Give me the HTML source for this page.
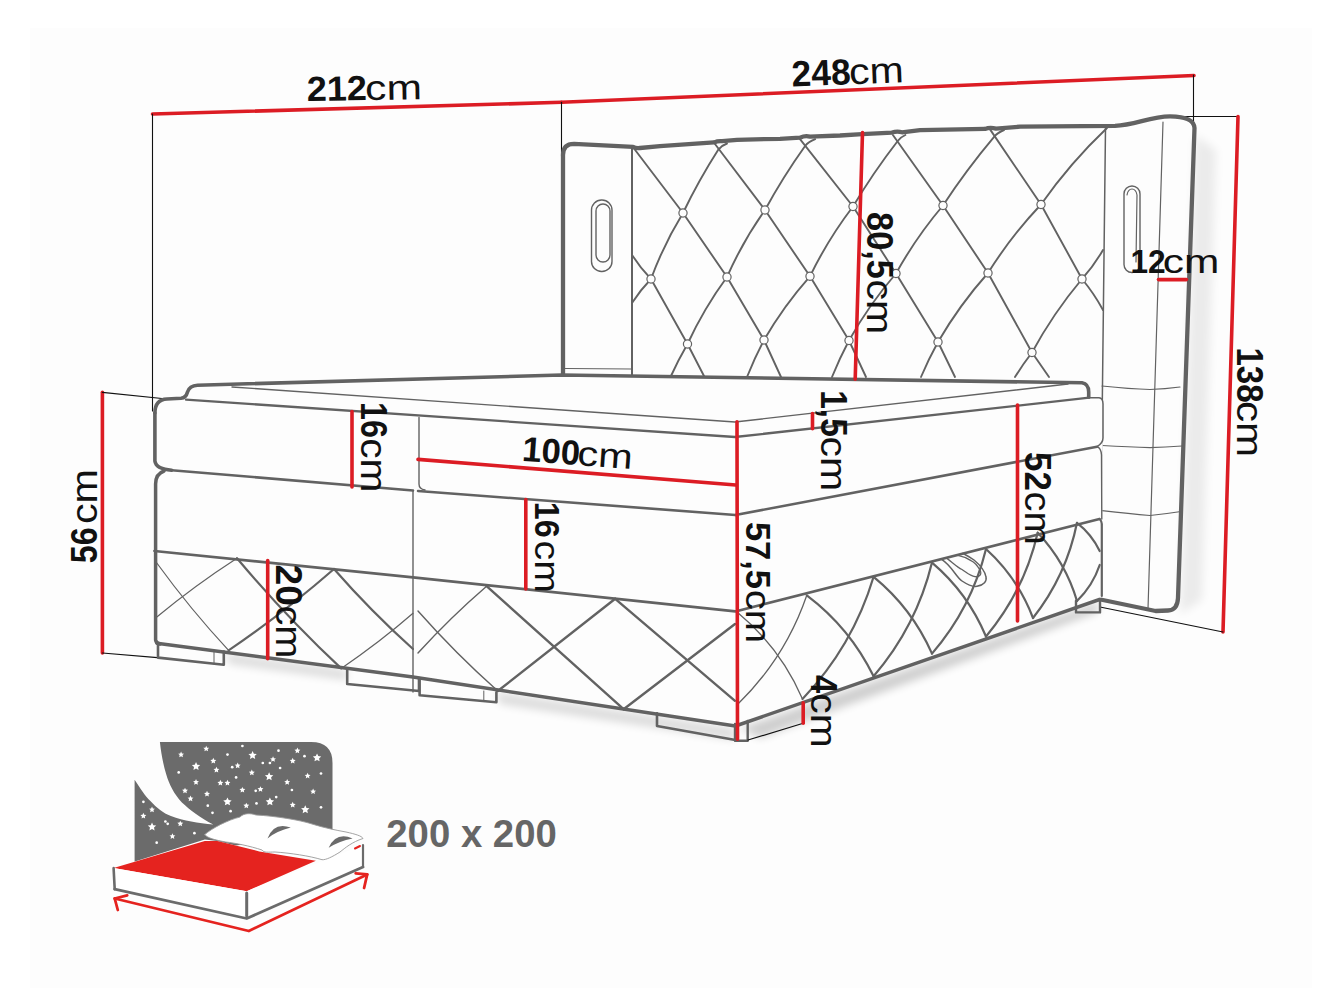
<!DOCTYPE html><html><head><meta charset="utf-8"><style>html,body{margin:0;padding:0;background:#fff;width:1336px;height:1002px;overflow:hidden}svg{display:block}</style></head><body><svg width="1336" height="1002" viewBox="0 0 1336 1002" stroke-linecap="round" stroke-linejoin="round"><rect x="30" y="28" width="1282" height="960" fill="#fdfdfd"/>
<line x1="152.5" y1="114" x2="561.5" y2="102.3" stroke="#dc1c24" stroke-width="3.6"/>
<line x1="561.5" y1="102.3" x2="1194" y2="75.5" stroke="#dc1c24" stroke-width="3.6"/>
<line x1="152.5" y1="114" x2="152.5" y2="411" stroke="#111" stroke-width="1.1"/>
<line x1="561.5" y1="102.3" x2="561.5" y2="156" stroke="#111" stroke-width="1.1"/>
<line x1="1193.5" y1="75" x2="1193.5" y2="123" stroke="#111" stroke-width="1.1"/>
<line x1="1170" y1="116.5" x2="1238.5" y2="116.5" stroke="#111" stroke-width="1.1"/>
<line x1="1238" y1="116.5" x2="1223" y2="632" stroke="#dc1c24" stroke-width="3.6"/>
<line x1="1100" y1="607" x2="1223" y2="632" stroke="#111" stroke-width="1.2"/>
<line x1="102.4" y1="392.3" x2="102.4" y2="653" stroke="#dc1c24" stroke-width="3.6"/>
<line x1="102.4" y1="392.3" x2="162" y2="398.5" stroke="#111" stroke-width="1.2"/>
<line x1="102.4" y1="653" x2="157.4" y2="657.7" stroke="#111" stroke-width="1.2"/>
<defs><filter id="bl" x="-20%" y="-20%" width="140%" height="140%"><feGaussianBlur stdDeviation="5"/></filter><filter id="bl2" x="-20%" y="-50%" width="140%" height="200%"><feGaussianBlur stdDeviation="4"/></filter></defs>
<path d="M1195,135 L1216,150 L1202,600 L1180,614 Z" fill="#000" opacity="0.07" filter="url(#bl)"/>
<path d="M740,728 L1098,602 L1098,612 L760,738 Z" fill="#000" opacity="0.18" filter="url(#bl2)"/>
<path d="M496,692 L735,728 L735,740 L500,704 Z" fill="#000" opacity="0.13" filter="url(#bl2)"/>
<path d="M224,653 L347,670 L347,680 L230,664 Z" fill="#000" opacity="0.13" filter="url(#bl2)"/>
<path d="M634,148.5 Q658.5,180.8 683,213" stroke="#626262" stroke-width="1.9" fill="none" />
<path d="M683,213 Q698.8,180.2 718.4,149.6 Q721.4,145.6 727,143.5" stroke="#626262" stroke-width="1.9" fill="none" />
<path d="M651,279 Q663.7,244.4 683,213" stroke="#626262" stroke-width="1.9" fill="none" />
<path d="M683,213 Q705.0,245.0 727,277" stroke="#626262" stroke-width="1.9" fill="none" />
<path d="M714.8,143.8 Q739.9,176.9 765,210" stroke="#626262" stroke-width="1.9" fill="none" />
<path d="M765,210 Q783.1,176.8 805.1,146 Q808.1,142 815.2,139.2" stroke="#626262" stroke-width="1.9" fill="none" />
<path d="M727,277 Q742.6,241.6 765,210" stroke="#626262" stroke-width="1.9" fill="none" />
<path d="M765,210 Q787.5,243.2 810,276.3" stroke="#626262" stroke-width="1.9" fill="none" />
<path d="M799.8,138.8 Q826.4,172.7 853,206.5" stroke="#626262" stroke-width="1.9" fill="none" />
<path d="M853,206.5 Q873.4,172.4 897.7,141 Q900.7,137 905.4,135" stroke="#626262" stroke-width="1.9" fill="none" />
<path d="M810,276.3 Q828.0,239.2 853,206.5" stroke="#626262" stroke-width="1.9" fill="none" />
<path d="M853,206.5 Q874.5,240.0 896,273.5" stroke="#626262" stroke-width="1.9" fill="none" />
<path d="M892.9,135 Q918.0,170.2 943,205.5" stroke="#626262" stroke-width="1.9" fill="none" />
<path d="M943,205.5 Q966.6,169.6 994.3,136.7 Q997.3,132.7 1004,130" stroke="#626262" stroke-width="1.9" fill="none" />
<path d="M896,273.5 Q916.1,237.2 943,205.5" stroke="#626262" stroke-width="1.9" fill="none" />
<path d="M943,205.5 Q965.5,239.2 988,273" stroke="#626262" stroke-width="1.9" fill="none" />
<path d="M990.2,129.6 Q1015.6,167.1 1041,204.5" stroke="#626262" stroke-width="1.9" fill="none" />
<path d="M1041,204.5 Q1070.2,162.9 1107,128" stroke="#626262" stroke-width="1.9" fill="none" />
<path d="M988,273 Q1011.1,236.1 1041,204.5" stroke="#626262" stroke-width="1.9" fill="none" />
<path d="M1041,204.5 Q1061.5,241.8 1082,279" stroke="#626262" stroke-width="1.9" fill="none" />
<path d="M651,279 Q669.2,311.5 687.5,344" stroke="#626262" stroke-width="1.9" fill="none" />
<path d="M687.5,344 Q703.9,308.5 727,277" stroke="#626262" stroke-width="1.9" fill="none" />
<path d="M670.5,377 Q678.2,360.1 687.5,344" stroke="#626262" stroke-width="1.9" fill="none" />
<path d="M687.5,344 Q696.0,360.5 704.5,377" stroke="#626262" stroke-width="1.9" fill="none" />
<path d="M727,277 Q745.5,308.5 764,340" stroke="#626262" stroke-width="1.9" fill="none" />
<path d="M764,340 Q783.8,305.8 810,276.3" stroke="#626262" stroke-width="1.9" fill="none" />
<path d="M747,377 Q754.6,358.1 764,340" stroke="#626262" stroke-width="1.9" fill="none" />
<path d="M764,340 Q772.5,358.5 781,377" stroke="#626262" stroke-width="1.9" fill="none" />
<path d="M810,276.3 Q829.5,308.4 849,340.5" stroke="#626262" stroke-width="1.9" fill="none" />
<path d="M849,340.5 Q869.1,304.6 896,273.5" stroke="#626262" stroke-width="1.9" fill="none" />
<path d="M832,377 Q839.6,358.3 849,340.5" stroke="#626262" stroke-width="1.9" fill="none" />
<path d="M849,340.5 Q857.5,358.8 866,377" stroke="#626262" stroke-width="1.9" fill="none" />
<path d="M896,273.5 Q917.0,307.8 938,342" stroke="#626262" stroke-width="1.9" fill="none" />
<path d="M938,342 Q959.5,305.0 988,273" stroke="#626262" stroke-width="1.9" fill="none" />
<path d="M921,377 Q928.6,359.1 938,342" stroke="#626262" stroke-width="1.9" fill="none" />
<path d="M938,342 Q946.5,359.5 955,377" stroke="#626262" stroke-width="1.9" fill="none" />
<path d="M988,273 Q1010.0,312.8 1032,352.5" stroke="#626262" stroke-width="1.9" fill="none" />
<path d="M1032,352.5 Q1053.3,313.2 1082,279" stroke="#626262" stroke-width="1.9" fill="none" />
<path d="M1015,377 Q1022.9,364.3 1032,352.5" stroke="#626262" stroke-width="1.9" fill="none" />
<path d="M1032,352.5 Q1040.5,364.8 1049,377" stroke="#626262" stroke-width="1.9" fill="none" />
<path d="M632,255 Q640.3,267.9 651,279" stroke="#626262" stroke-width="1.9" fill="none" />
<path d="M651,279 Q640.3,290.1 632,303" stroke="#626262" stroke-width="1.9" fill="none" />
<path d="M1082,279 Q1094.0,265.6 1103,250" stroke="#626262" stroke-width="1.9" fill="none" />
<path d="M1103,310 Q1094.0,293.4 1082,279" stroke="#626262" stroke-width="1.9" fill="none" />
<circle cx="683" cy="213" r="4.1" fill="#fdfdfd" stroke="#626262" stroke-width="1.2"/>
<circle cx="765" cy="210" r="4.1" fill="#fdfdfd" stroke="#626262" stroke-width="1.2"/>
<circle cx="853" cy="206.5" r="4.1" fill="#fdfdfd" stroke="#626262" stroke-width="1.2"/>
<circle cx="943" cy="205.5" r="4.1" fill="#fdfdfd" stroke="#626262" stroke-width="1.2"/>
<circle cx="1041" cy="204.5" r="4.1" fill="#fdfdfd" stroke="#626262" stroke-width="1.2"/>
<circle cx="651" cy="279" r="4.1" fill="#fdfdfd" stroke="#626262" stroke-width="1.2"/>
<circle cx="727" cy="277" r="4.1" fill="#fdfdfd" stroke="#626262" stroke-width="1.2"/>
<circle cx="810" cy="276.3" r="4.1" fill="#fdfdfd" stroke="#626262" stroke-width="1.2"/>
<circle cx="896" cy="273.5" r="4.1" fill="#fdfdfd" stroke="#626262" stroke-width="1.2"/>
<circle cx="988" cy="273" r="4.1" fill="#fdfdfd" stroke="#626262" stroke-width="1.2"/>
<circle cx="1082" cy="279" r="4.1" fill="#fdfdfd" stroke="#626262" stroke-width="1.2"/>
<circle cx="687.5" cy="344" r="4.1" fill="#fdfdfd" stroke="#626262" stroke-width="1.2"/>
<circle cx="764" cy="340" r="4.1" fill="#fdfdfd" stroke="#626262" stroke-width="1.2"/>
<circle cx="849" cy="340.5" r="4.1" fill="#fdfdfd" stroke="#626262" stroke-width="1.2"/>
<circle cx="938" cy="342" r="4.1" fill="#fdfdfd" stroke="#626262" stroke-width="1.2"/>
<circle cx="1032" cy="352.5" r="4.1" fill="#fdfdfd" stroke="#626262" stroke-width="1.2"/>
<path d="M563,376 L563,155 Q563,143.8 574,143.8 L633,146.8 Q636,148.6 640,148 L660,146.1 L714,142.4 Q718,140.8 722,141.2 L737,139.8 L780,138.8 L800,137.7 Q805,135.3 810,136.6 L840,135.5 L862,134.1 L892,132.6 Q897,130.8 902,132.3 L920,130.2 L985,128.9 Q990,127 996,128.6 L1020,126.7 L1115,125.8 C1135,125 1150,116.5 1170,116.3 Q1194,116.5 1194.5,128 L1178,598 Q1177.5,610 1168,610.5 L1155.6,611 L1098,599" stroke="#626262" stroke-width="4.3" fill="none" />
<line x1="632" y1="147" x2="632" y2="376" stroke="#626262" stroke-width="2"/>
<line x1="565" y1="368.5" x2="631" y2="369" stroke="#626262" stroke-width="1"/>
<path d="M1105.5,128 L1100,599" stroke="#626262" stroke-width="1.5" fill="none" />
<path d="M1163,122 L1148,609" stroke="#626262" stroke-width="1.2" fill="none" />
<path d="M1102,386 Q1130,389 1150,389.5 Q1165,389 1180,387" stroke="#626262" stroke-width="1.2" fill="none" />
<path d="M1102,445.5 Q1130,447 1150,447.6 Q1165,447 1182,446" stroke="#626262" stroke-width="1.2" fill="none" />
<path d="M1102,510.7 Q1130,514 1150,515.5 Q1165,514 1181,511.5" stroke="#626262" stroke-width="1.2" fill="none" />
<rect x="591.5" y="200" width="20.5" height="71.5" rx="10" fill="#fdfdfd" stroke="#626262" stroke-width="1.4"/>
<rect x="596" y="204" width="14" height="58" rx="7" fill="none" stroke="#626262" stroke-width="1.4"/>
<rect x="1124" y="186" width="16" height="86.5" rx="8" fill="#fdfdfd" stroke="#626262" stroke-width="1.4"/>
<path d="M1127,195 Q1128,189 1132,189 Q1136,189 1137,195 L1136,262" fill="none" stroke="#626262" stroke-width="1.2"/>
<path d="M154.9,413 Q155,399.5 167,399 L181,398.3 Q186,397.8 187.5,392 Q189.5,385.5 197.5,385.2 L561.7,375 L1082,382.8 Q1088.7,384 1088.7,397 L1099,397.7 Q1103,398 1103,404 L1101.8,596 L1099.5,599.5 L735.4,726 L156.8,643.2 Z" fill="#fdfdfd" stroke="none"/>
<path d="M154.9,413 Q155,399.5 167,399 L181,398.3 Q186,397.8 187.5,392 Q189.5,385.5 197.5,385.2 L561.7,375 L1082,382.8 Q1088.7,384 1088.7,392 L1088.7,397.1" stroke="#626262" stroke-width="3.6" fill="none" />
<path d="M232,387 L735,422 L1068,384" stroke="#626262" stroke-width="1.4" fill="none" />
<path d="M186,399.6 L735,437 L1089.3,397.7" stroke="#626262" stroke-width="2.3" fill="none" />
<path d="M1089.3,397.7 L1099,397.7 Q1103,398 1103,404 L1103,438 Q1103,443 1097,446.7" stroke="#626262" stroke-width="1.5" fill="none" />
<path d="M154.9,413 L154.9,461 Q156,469 171.6,470.2" stroke="#626262" stroke-width="3.6" fill="none" />
<path d="M171.6,470.2 L413,490.5" stroke="#626262" stroke-width="2.6" fill="none" />
<path d="M418,491 L735.4,515" stroke="#626262" stroke-width="2.6" fill="none" />
<path d="M735.4,515 L1097,446.7" stroke="#626262" stroke-width="2.6" fill="none" />
<path d="M419,417.5 L419,484 Q419,489 425,490" stroke="#626262" stroke-width="1.4" fill="none" />
<path d="M164,471 Q155.6,474 155.6,484 L155.6,640 Q156,643 160,644" stroke="#626262" stroke-width="3.5" fill="none" />
<path d="M154.4,551 L413,577.4 L735.4,611.4 L1099.5,519" stroke="#626262" stroke-width="2.6" fill="none" />
<path d="M1099.5,519 Q1102,521 1101.8,526 L1101.8,596" stroke="#626262" stroke-width="2.2" fill="none" />
<path d="M1097,446.7 Q1101,448 1101.5,455 L1101.8,519" stroke="#626262" stroke-width="1.4" fill="none" />
<line x1="413" y1="491" x2="413" y2="692" stroke="#626262" stroke-width="1.4"/>
<path d="M156.8,643.2 L413,677 L735.4,726 L1099.5,599.5" stroke="#626262" stroke-width="3.5" fill="none" />
<path d="M158,644.4 L158,657.6 L223.8,664.8 L223.8,651.6" stroke="#626262" stroke-width="2.6" fill="none" />
<line x1="214" y1="650.5" x2="214" y2="663.5" stroke="#626262" stroke-width="1"/>
<path d="M347.2,668.4 L347.2,684 L419,691 L419,678" stroke="#626262" stroke-width="2.6" fill="none" />
<path d="M419.6,680 L419.6,695.2 L496.4,702.2 L496.4,692.4" stroke="#626262" stroke-width="2.6" fill="none" />
<line x1="483.8" y1="691" x2="483.8" y2="701" stroke="#626262" stroke-width="1"/>
<path d="M657,713.4 L657,726 L735.4,740" stroke="#626262" stroke-width="2.6" fill="none" />
<path d="M735,724 L735,740.8 L747.7,740.8 L747.7,721" stroke="#626262" stroke-width="2.4" fill="none" />
<path d="M1076,600.7 L1076,612.4 L1100,612.4 L1100,599" stroke="#626262" stroke-width="2.4" fill="none" />
<line x1="748" y1="740" x2="803.2" y2="723.3" stroke="#111" stroke-width="1.2"/>
<path d="M156.8,563 Q190.1,608.9 228.6,650.4" stroke="#626262" stroke-width="1.2" fill="none" />
<path d="M237,558.2 Q195.1,585.2 156.8,617" stroke="#626262" stroke-width="1.2" fill="none" />
<path d="M237,558.2 Q285.8,616.4 341.2,668.4" stroke="#626262" stroke-width="2.2" fill="none" />
<path d="M228.6,650.4 Q283.7,612.9 334,569" stroke="#626262" stroke-width="2.2" fill="none" />
<path d="M334,569 Q371.1,611.4 413,649" stroke="#626262" stroke-width="2.2" fill="none" />
<path d="M341.2,668.4 Q378.8,643.0 413,613.3" stroke="#626262" stroke-width="1.2" fill="none" />
<path d="M486.6,586.2 Q450.3,617.5 418,653" stroke="#626262" stroke-width="1.4" fill="none" />
<path d="M486.6,586.2 Q555.1,647.7 623.6,709.2" stroke="#626262" stroke-width="2.4" fill="none" />
<path d="M615.2,598.8 Q556.5,644.9 497.8,691" stroke="#626262" stroke-width="2.4" fill="none" />
<path d="M615.2,598.8 Q675.1,649.8 735,700.8" stroke="#626262" stroke-width="2.4" fill="none" />
<path d="M418,611 Q455.5,653.4 497.8,691" stroke="#626262" stroke-width="1.4" fill="none" />
<path d="M623.6,709.2 Q679.3,666.6 735,624" stroke="#626262" stroke-width="2.4" fill="none" />
<path d="M737,612 Q780.2,647.6 802.5,699" stroke="#626262" stroke-width="1.3" fill="none" />
<path d="M806.8,595.3 Q785.1,658.5 737,705" stroke="#626262" stroke-width="1.3" fill="none" />
<path d="M806.8,595.3 Q849.9,627.8 873.6,676.3" stroke="#626262" stroke-width="2.2" fill="none" />
<path d="M873.6,576.8 Q852.7,646.4 802.5,699" stroke="#626262" stroke-width="2.2" fill="none" />
<path d="M873.6,576.8 Q912.0,608.2 932,653.6" stroke="#626262" stroke-width="2.2" fill="none" />
<path d="M932,562.6 Q916.4,626.5 873.6,676.3" stroke="#626262" stroke-width="2.2" fill="none" />
<path d="M932,562.6 Q967.9,593.1 986,636.5" stroke="#626262" stroke-width="2.2" fill="none" />
<path d="M986,549 Q971.6,607.8 932,653.6" stroke="#626262" stroke-width="2.2" fill="none" />
<path d="M986,549 Q1017.8,577.9 1033,618" stroke="#626262" stroke-width="2.2" fill="none" />
<path d="M1037.7,532.7 Q1024.3,590.8 986,636.5" stroke="#626262" stroke-width="2.2" fill="none" />
<path d="M1037.7,532.7 Q1065.5,562.1 1077,601" stroke="#626262" stroke-width="2.2" fill="none" />
<path d="M1077,522.8 Q1066.4,575.7 1033,618" stroke="#626262" stroke-width="2.2" fill="none" />
<path d="M1077,522.8 Q1091.7,534.2 1099.7,551" stroke="#626262" stroke-width="2.2" fill="none" />
<path d="M1099.7,565 Q1092.7,585.7 1077,601" stroke="#626262" stroke-width="2.2" fill="none" />
<path d="M941.6,559.4 C952,566 956,577 962,581 C968,585 973,587 977,586.3 C984,585 987,581 986,577 C985,571 980,565 974,560 C970,557 966,555 963,553.4" stroke="#626262" stroke-width="1.5" fill="none" />
<path d="M946.3,557.9 C952,562 957,567 962,569.5 C966,572 970,576 975,576.7 C980,577.2 982,574 980,570 C977,565 974,562 971,560.6 C966,557.5 961,556 957,555.2" stroke="#626262" stroke-width="1.3" fill="none" />
<line x1="862.5" y1="132.6" x2="855.2" y2="379.3" stroke="#dc1c24" stroke-width="3.6"/>
<line x1="1158.5" y1="279.6" x2="1186.5" y2="279.6" stroke="#dc1c24" stroke-width="3.6"/>
<line x1="352" y1="411.5" x2="352" y2="487" stroke="#dc1c24" stroke-width="3.6"/>
<line x1="418" y1="459.4" x2="735.8" y2="485" stroke="#dc1c24" stroke-width="3.6"/>
<line x1="812.5" y1="413.5" x2="812.5" y2="428.8" stroke="#dc1c24" stroke-width="3.6"/>
<line x1="1017.5" y1="405" x2="1017.5" y2="621" stroke="#dc1c24" stroke-width="3.6"/>
<line x1="525.8" y1="499.6" x2="525.8" y2="589" stroke="#dc1c24" stroke-width="3.6"/>
<line x1="737" y1="421.8" x2="737.5" y2="739.3" stroke="#dc1c24" stroke-width="3.6"/>
<line x1="267.7" y1="560.6" x2="267.7" y2="658.8" stroke="#dc1c24" stroke-width="3.6"/>
<line x1="803.2" y1="702.9" x2="803.2" y2="723.3" stroke="#dc1c24" stroke-width="3.6"/>
<g transform="translate(306.90,101.03) rotate(-1.0)"><text x="0" y="0" font-family="Liberation Sans" font-weight="bold" font-size="34.75" fill="#111" textLength="60.20" lengthAdjust="spacingAndGlyphs">212</text><text x="58.49" y="0" font-family="Liberation Sans" font-size="34.75" fill="#111" textLength="56.70" lengthAdjust="spacingAndGlyphs">cm</text></g>
<g transform="translate(792.10,86.54) rotate(-2.3)"><text x="0" y="0" font-family="Liberation Sans" font-weight="bold" font-size="36.45" fill="#111" textLength="59.00" lengthAdjust="spacingAndGlyphs">248</text><text x="57.39" y="0" font-family="Liberation Sans" font-size="36.45" fill="#111" textLength="54.70" lengthAdjust="spacingAndGlyphs">cm</text></g>
<g transform="translate(1130.50,273.00) rotate(0)"><text x="0" y="0" font-family="Liberation Sans" font-weight="bold" font-size="33.05" fill="#111" textLength="35.20" lengthAdjust="spacingAndGlyphs">12</text><text x="32.18" y="0" font-family="Liberation Sans" font-size="33.05" fill="#111" textLength="56.60" lengthAdjust="spacingAndGlyphs">cm</text></g>
<g transform="translate(521.61,460.84) rotate(4.2)"><text x="0" y="0" font-family="Liberation Sans" font-weight="bold" font-size="34.75" fill="#111" textLength="57.90" lengthAdjust="spacingAndGlyphs">100</text><text x="55.29" y="0" font-family="Liberation Sans" font-size="34.75" fill="#111" textLength="55.20" lengthAdjust="spacingAndGlyphs">cm</text></g>
<g transform="translate(867.00,212.10) rotate(90)"><text x="0" y="0" font-family="Liberation Sans" font-weight="bold" font-size="36.88" fill="#111" textLength="66.60" lengthAdjust="spacingAndGlyphs">80,5</text><text x="67.41" y="0" font-family="Liberation Sans" font-size="36.88" fill="#111" textLength="54.90" lengthAdjust="spacingAndGlyphs">cm</text></g>
<g transform="translate(1236.50,347.40) rotate(90)"><text x="0" y="0" font-family="Liberation Sans" font-weight="bold" font-size="37.59" fill="#111" textLength="55.20" lengthAdjust="spacingAndGlyphs">138</text><text x="53.56" y="0" font-family="Liberation Sans" font-size="37.59" fill="#111" textLength="56.10" lengthAdjust="spacingAndGlyphs">cm</text></g>
<g transform="translate(360.60,401.90) rotate(90)"><text x="0" y="0" font-family="Liberation Sans" font-weight="bold" font-size="36.17" fill="#111" textLength="36.00" lengthAdjust="spacingAndGlyphs">16</text><text x="36.37" y="0" font-family="Liberation Sans" font-size="36.17" fill="#111" textLength="54.20" lengthAdjust="spacingAndGlyphs">cm</text></g>
<g transform="translate(821.00,390.30) rotate(90)"><text x="0" y="0" font-family="Liberation Sans" font-weight="bold" font-size="36.17" fill="#111" textLength="46.40" lengthAdjust="spacingAndGlyphs">1,5</text><text x="46.17" y="0" font-family="Liberation Sans" font-size="36.17" fill="#111" textLength="54.70" lengthAdjust="spacingAndGlyphs">cm</text></g>
<g transform="translate(1025.20,452.10) rotate(90)"><text x="0" y="0" font-family="Liberation Sans" font-weight="bold" font-size="36.88" fill="#111" textLength="38.80" lengthAdjust="spacingAndGlyphs">52</text><text x="39.41" y="0" font-family="Liberation Sans" font-size="36.88" fill="#111" textLength="53.30" lengthAdjust="spacingAndGlyphs">cm</text></g>
<g transform="translate(534.60,501.70) rotate(90)"><text x="0" y="0" font-family="Liberation Sans" font-weight="bold" font-size="35.18" fill="#111" textLength="36.00" lengthAdjust="spacingAndGlyphs">16</text><text x="38.91" y="0" font-family="Liberation Sans" font-size="35.18" fill="#111" textLength="52.20" lengthAdjust="spacingAndGlyphs">cm</text></g>
<g transform="translate(746.30,521.90) rotate(90)"><text x="0" y="0" font-family="Liberation Sans" font-weight="bold" font-size="35.18" fill="#111" textLength="67.00" lengthAdjust="spacingAndGlyphs">57,5</text><text x="67.81" y="0" font-family="Liberation Sans" font-size="35.18" fill="#111" textLength="53.50" lengthAdjust="spacingAndGlyphs">cm</text></g>
<g transform="translate(276.30,564.60) rotate(90)"><text x="0" y="0" font-family="Liberation Sans" font-weight="bold" font-size="36.88" fill="#111" textLength="41.40" lengthAdjust="spacingAndGlyphs">20</text><text x="40.81" y="0" font-family="Liberation Sans" font-size="36.88" fill="#111" textLength="52.90" lengthAdjust="spacingAndGlyphs">cm</text></g>
<g transform="translate(810.60,674.90) rotate(90)"><text x="0" y="0" font-family="Liberation Sans" font-weight="bold" font-size="36.45" fill="#111" textLength="18.10" lengthAdjust="spacingAndGlyphs">4</text><text x="18.39" y="0" font-family="Liberation Sans" font-size="36.45" fill="#111" textLength="54.40" lengthAdjust="spacingAndGlyphs">cm</text></g>
<g transform="translate(96.50,563.30) rotate(-90)"><text x="0" y="0" font-family="Liberation Sans" font-weight="bold" font-size="36.88" fill="#111" textLength="36.00" lengthAdjust="spacingAndGlyphs">56</text><text x="39.31" y="0" font-family="Liberation Sans" font-size="36.88" fill="#111" textLength="55.00" lengthAdjust="spacingAndGlyphs">cm</text></g>
<path d="M159.9,742.1 L311,742.1 Q332.5,742.1 332.5,763 L332.5,830 L134.6,862 L134.6,779.8 C140,788 145,796 150.4,801 C157,808 163,813 170.9,816 C184,821 198,823 213.3,824.6 C200,818 190,810 181.9,802.6 C174,794 169,784 166.2,774.3 C163,764 161,752 159.9,742.1 Z" fill="#6b6b6b"/><polygon points="196.02,762.04 197.26,764.73 200.20,765.08 198.03,767.09 198.60,770.00 196.02,768.55 193.43,770.00 194.01,767.09 191.83,765.08 194.78,764.73" fill="#fff"/>
<polygon points="252.60,751.03 253.84,753.73 256.79,754.07 254.61,756.09 255.19,758.99 252.60,757.55 250.02,758.99 250.59,756.09 248.42,754.07 251.36,753.73" fill="#fff"/>
<polygon points="269.11,772.25 270.35,774.94 273.29,775.29 271.12,777.31 271.69,780.21 269.11,778.77 266.52,780.21 267.10,777.31 264.92,775.29 267.87,774.94" fill="#fff"/>
<polygon points="317.05,753.39 318.29,756.08 321.23,756.43 319.06,758.44 319.63,761.35 317.05,759.90 314.46,761.35 315.04,758.44 312.86,756.43 315.81,756.08" fill="#fff"/>
<polygon points="227.45,797.40 228.70,800.09 231.64,800.44 229.46,802.46 230.04,805.36 227.45,803.91 224.87,805.36 225.44,802.46 223.27,800.44 226.21,800.09" fill="#fff"/>
<polygon points="269.89,797.40 271.13,800.09 274.08,800.44 271.90,802.46 272.48,805.36 269.89,803.91 267.31,805.36 267.88,802.46 265.71,800.44 268.65,800.09" fill="#fff"/>
<polygon points="305.26,805.26 306.50,807.95 309.44,808.30 307.27,810.31 307.85,813.22 305.26,811.77 302.67,813.22 303.25,810.31 301.07,808.30 304.02,807.95" fill="#fff"/>
<polygon points="152.01,822.55 153.25,825.24 156.19,825.59 154.01,827.60 154.59,830.51 152.01,829.06 149.42,830.51 150.00,827.60 147.82,825.59 150.76,825.24" fill="#fff"/>
<polygon points="181.08,751.55 181.96,753.44 184.03,753.69 182.50,755.11 182.91,757.16 181.08,756.14 179.26,757.16 179.67,755.11 178.14,753.69 180.21,753.44" fill="#fff"/>
<polygon points="206.23,745.73 207.11,747.63 209.18,747.87 207.65,749.29 208.06,751.34 206.23,750.32 204.41,751.34 204.82,749.29 203.29,747.87 205.36,747.63" fill="#fff"/>
<polygon points="213.31,757.84 214.18,759.73 216.26,759.98 214.72,761.40 215.13,763.44 213.31,762.42 211.49,763.44 211.89,761.40 210.36,759.98 212.43,759.73" fill="#fff"/>
<polygon points="216.45,766.79 217.33,768.69 219.40,768.94 217.87,770.35 218.27,772.40 216.45,771.38 214.63,772.40 215.04,770.35 213.50,768.94 215.58,768.69" fill="#fff"/>
<polygon points="237.67,762.55 238.55,764.45 240.62,764.69 239.09,766.11 239.49,768.16 237.67,767.14 235.85,768.16 236.26,766.11 234.72,764.69 236.80,764.45" fill="#fff"/>
<polygon points="251.82,769.62 252.69,771.52 254.77,771.77 253.23,773.18 253.64,775.23 251.82,774.21 249.99,775.23 250.40,773.18 248.87,771.77 250.94,771.52" fill="#fff"/>
<polygon points="273.04,756.26 273.91,758.16 275.99,758.41 274.45,759.82 274.86,761.87 273.04,760.85 271.21,761.87 271.62,759.82 270.09,758.41 272.16,758.16" fill="#fff"/>
<polygon points="297.40,747.62 298.27,749.51 300.35,749.76 298.82,751.18 299.22,753.23 297.40,752.21 295.58,753.23 295.99,751.18 294.45,749.76 296.53,749.51" fill="#fff"/>
<polygon points="292.68,757.84 293.56,759.73 295.63,759.98 294.10,761.40 294.51,763.44 292.68,762.42 290.86,763.44 291.27,761.40 289.74,759.98 291.81,759.73" fill="#fff"/>
<polygon points="307.62,772.77 308.49,774.66 310.57,774.91 309.03,776.33 309.44,778.38 307.62,777.36 305.79,778.38 306.20,776.33 304.67,774.91 306.74,774.66" fill="#fff"/>
<polygon points="196.02,779.05 196.89,780.95 198.97,781.20 197.43,782.61 197.84,784.66 196.02,783.64 194.19,784.66 194.60,782.61 193.07,781.20 195.14,780.95" fill="#fff"/>
<polygon points="220.38,779.84 221.26,781.74 223.33,781.98 221.80,783.40 222.20,785.45 220.38,784.43 218.56,785.45 218.97,783.40 217.43,781.98 219.51,781.74" fill="#fff"/>
<polygon points="227.45,779.84 228.33,781.74 230.40,781.98 228.87,783.40 229.28,785.45 227.45,784.43 225.63,785.45 226.04,783.40 224.51,781.98 226.58,781.74" fill="#fff"/>
<polygon points="242.39,786.91 243.26,788.81 245.33,789.06 243.80,790.47 244.21,792.52 242.39,791.50 240.56,792.52 240.97,790.47 239.44,789.06 241.51,788.81" fill="#fff"/>
<polygon points="260.46,786.13 261.34,788.02 263.41,788.27 261.88,789.69 262.28,791.74 260.46,790.72 258.64,791.74 259.05,789.69 257.51,788.27 259.59,788.02" fill="#fff"/>
<polygon points="287.18,779.05 288.06,780.95 290.13,781.20 288.60,782.61 289.01,784.66 287.18,783.64 285.36,784.66 285.77,782.61 284.24,781.20 286.31,780.95" fill="#fff"/>
<polygon points="313.12,788.49 313.99,790.38 316.07,790.63 314.53,792.05 314.94,794.09 313.12,793.07 311.30,794.09 311.70,792.05 310.17,790.63 312.24,790.38" fill="#fff"/>
<polygon points="185.01,787.70 185.89,789.60 187.96,789.84 186.43,791.26 186.84,793.31 185.01,792.29 183.19,793.31 183.60,791.26 182.07,789.84 184.14,789.60" fill="#fff"/>
<polygon points="207.02,790.84 207.89,792.74 209.97,792.99 208.43,794.40 208.84,796.45 207.02,795.43 205.20,796.45 205.60,794.40 204.07,792.99 206.15,792.74" fill="#fff"/>
<polygon points="190.52,795.56 191.39,797.46 193.46,797.70 191.93,799.12 192.34,801.17 190.52,800.15 188.69,801.17 189.10,799.12 187.57,797.70 189.64,797.46" fill="#fff"/>
<polygon points="246.32,802.63 247.19,804.53 249.26,804.77 247.73,806.19 248.14,808.24 246.32,807.22 244.49,808.24 244.90,806.19 243.37,804.77 245.44,804.53" fill="#fff"/>
<polygon points="292.68,801.85 293.56,803.74 295.63,803.99 294.10,805.41 294.51,807.45 292.68,806.43 290.86,807.45 291.27,805.41 289.74,803.99 291.81,803.74" fill="#fff"/>
<polygon points="152.01,806.56 152.88,808.46 154.95,808.70 153.42,810.12 153.83,812.17 152.01,811.15 150.18,812.17 150.59,810.12 149.06,808.70 151.13,808.46" fill="#fff"/>
<polygon points="143.36,812.85 144.24,814.75 146.31,814.99 144.78,816.41 145.18,818.46 143.36,817.44 141.54,818.46 141.95,816.41 140.41,814.99 142.49,814.75" fill="#fff"/>
<polygon points="180.30,820.71 181.17,822.60 183.25,822.85 181.71,824.27 182.12,826.32 180.30,825.30 178.48,826.32 178.88,824.27 177.35,822.85 179.42,822.60" fill="#fff"/>
<polygon points="172.44,833.28 173.31,835.18 175.39,835.43 173.85,836.84 174.26,838.89 172.44,837.87 170.62,838.89 171.02,836.84 169.49,835.43 171.56,835.18" fill="#fff"/>
<circle cx="242.4" cy="746.0" r="1.35" fill="#fff"/>
<circle cx="227.5" cy="754.6" r="1.35" fill="#fff"/>
<circle cx="278.5" cy="750.7" r="1.35" fill="#fff"/>
<circle cx="304.5" cy="756.2" r="1.35" fill="#fff"/>
<circle cx="178.7" cy="772.4" r="1.35" fill="#fff"/>
<circle cx="232.2" cy="767.2" r="1.35" fill="#fff"/>
<circle cx="262.8" cy="763.0" r="1.35" fill="#fff"/>
<circle cx="269.9" cy="763.0" r="1.35" fill="#fff"/>
<circle cx="280.1" cy="768.0" r="1.35" fill="#fff"/>
<circle cx="321.0" cy="773.5" r="1.35" fill="#fff"/>
<circle cx="236.1" cy="777.4" r="1.35" fill="#fff"/>
<circle cx="291.9" cy="790.0" r="1.35" fill="#fff"/>
<circle cx="255.7" cy="790.8" r="1.35" fill="#fff"/>
<circle cx="276.2" cy="797.1" r="1.35" fill="#fff"/>
<circle cx="256.5" cy="803.4" r="1.35" fill="#fff"/>
<circle cx="207.8" cy="805.7" r="1.35" fill="#fff"/>
<circle cx="212.5" cy="812.8" r="1.35" fill="#fff"/>
<circle cx="230.6" cy="811.2" r="1.35" fill="#fff"/>
<circle cx="321.0" cy="807.3" r="1.35" fill="#fff"/>
<circle cx="143.4" cy="801.8" r="1.35" fill="#fff"/>
<circle cx="165.4" cy="821.5" r="1.35" fill="#fff"/>
<circle cx="167.7" cy="823.8" r="1.35" fill="#fff"/>
<circle cx="194.4" cy="833.2" r="1.35" fill="#fff"/>
<circle cx="156.7" cy="842.7" r="1.35" fill="#fff"/>
<path d="M111,869 L204.8,839.5 L217.4,840.9 L259.3,851.4 L317,860.5 L246.7,892.5 Z" fill="#fff"/>
<path d="M113.6,868.1 L204.8,840.9 L217.4,840.9 L259.3,851.4 L315.9,860.8 L246.7,891.2 Z" fill="#e5231f"/>
<path d="M113.6,868.1 L246.7,891.2 L246.7,917 L114.7,889.1 Z" fill="#fff"/><path d="M113.6,868.1 L114.7,889.1" stroke="#6b6b6b" stroke-width="2.6"/>
<path d="M246.7,891.2 L363,845 L363,867 L246.7,917 Z" fill="#fff"/><path d="M363,845 L363,867" stroke="#6b6b6b" stroke-width="2.2"/>
<path d="M114.7,889.1 L246.7,918.5 L363,867" fill="none" stroke="#6b6b6b" stroke-width="2.8"/>
<path d="M246.7,893 L246.7,916" stroke="#6b6b6b" stroke-width="3"/>
<path d="M204.8,834.6 C212,828 228,820 240,817 C244,813 250,813 256,815 C275,816 300,820 312,824 C325,828 335,830 346,832 C355,834 362,836 363,838.5 C352,842 345,848 340,852 C332,857 326,860 322,859.7 C310,856 290,853 275,852 C268,852 264,853 262,850 C250,846 235,843 225.8,842 C215,840 207,838 204.8,834.6 Z" fill="#fff" stroke="#9a9a9a" stroke-width="0.9"/>
<path d="M267.5,838.4 Q274,821.5 290.8,827.6 Q277,831 267.5,838.4 Z" fill="#6b6b6b"/>
<path d="M328.7,847.7 Q336,831.5 352.6,838.4 Q339,841 328.7,847.7 Z" fill="#6b6b6b"/>
<path d="M355,848.5 L360,846" stroke="#e5231f" stroke-width="2"/>
<path d="M114.7,898.5 L248.8,931 L367.2,874.4" stroke="#e5231f" stroke-width="2.8" fill="none"/>
<path d="M127.2,895.4 L114.7,898.5 L117.8,910" stroke="#e5231f" stroke-width="2.8" fill="none"/>
<path d="M355.7,873.4 L367.2,874.4 L364.1,888" stroke="#e5231f" stroke-width="2.8" fill="none"/>

<text x="386.3" y="846.6" font-family="Liberation Sans" font-weight="bold" font-size="39.5" fill="#666" textLength="170.5" lengthAdjust="spacingAndGlyphs">200 x 200</text></svg></body></html>
